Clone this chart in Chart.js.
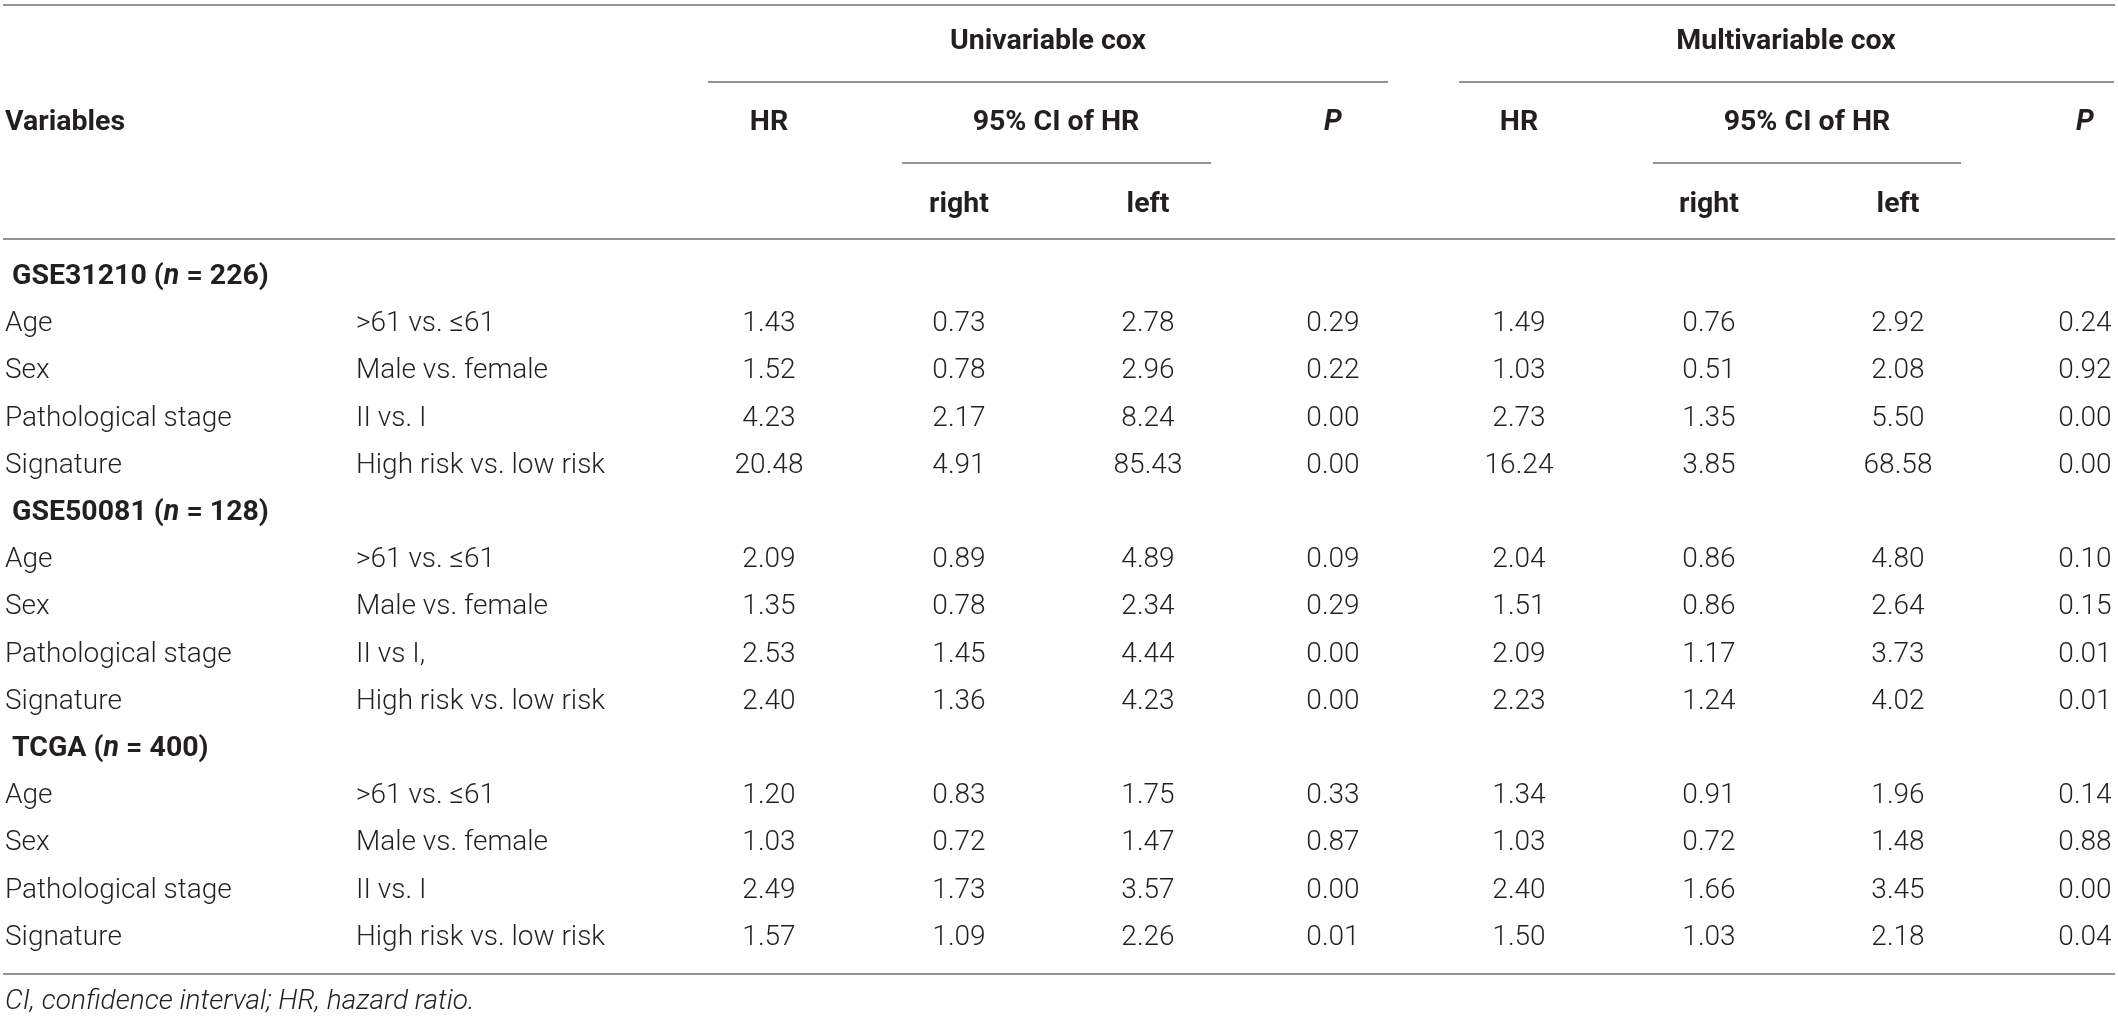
<!DOCTYPE html>
<html>
<head>
<meta charset="utf-8">
<script src="https://cdn.jsdelivr.net/npm/chart.js@4.4.1/dist/chart.umd.min.js"></script>
<style>
  html, body { margin: 0; padding: 0; background: #fff; }
  canvas { display: block; }
</style>
</head>
<body>
<canvas id="tbl" width="2118" height="1020"></canvas>
<script>
// ---- table values ----
const groups = ['GSE31210', 'GSE50081', 'TCGA'];
const groupN = [226, 128, 400];
const variables = ['Age', 'Sex', 'Pathological stage', 'Signature'];
const comparisons = [
  '>61 vs. \u226461', 'Male vs. female', 'II vs. I', 'High risk vs. low risk',
  '>61 vs. \u226461', 'Male vs. female', 'II vs I,', 'High risk vs. low risk',
  '>61 vs. \u226461', 'Male vs. female', 'II vs. I', 'High risk vs. low risk'
];
const uniHR    = [1.43, 1.52, 4.23, 20.48, 2.09, 1.35, 2.53, 2.40, 1.20, 1.03, 2.49, 1.57];
const uniRight = [0.73, 0.78, 2.17, 4.91,  0.89, 0.78, 1.45, 1.36, 0.83, 0.72, 1.73, 1.09];
const uniLeft  = [2.78, 2.96, 8.24, 85.43, 4.89, 2.34, 4.44, 4.23, 1.75, 1.47, 3.57, 2.26];
const uniP     = [0.29, 0.22, 0.00, 0.00,  0.09, 0.29, 0.00, 0.00, 0.33, 0.87, 0.00, 0.01];
const mulHR    = [1.49, 1.03, 2.73, 16.24, 2.04, 1.51, 2.09, 2.23, 1.34, 1.03, 2.40, 1.50];
const mulRight = [0.76, 0.51, 1.35, 3.85,  0.86, 0.86, 1.17, 1.24, 0.91, 0.72, 1.66, 1.03];
const mulLeft  = [2.92, 2.08, 5.50, 68.58, 4.80, 2.64, 3.73, 4.02, 1.96, 1.48, 3.45, 2.18];
const mulP     = [0.24, 0.92, 0.00, 0.00,  0.10, 0.15, 0.01, 0.01, 0.14, 0.88, 0.00, 0.04];
const footnote = 'CI, confidence interval; HR, hazard ratio.';

// ---- layout ----
const W = 2118, H = 1020;
const FONT = 'Roboto, "Liberation Sans", sans-serif';
const INK = '#231f20';
const RULE = '#939393';
const BODY_TOP = 277, ROW_H = 47.2;
const rowY = k => BODY_TOP + k * ROW_H;
const dataRow = j => Math.floor(j / 4) * 5 + 1 + (j % 4);

const X = {
  name: 5, group: 12, compare: 356,
  uniHR: 769, uniR: 959, uniL: 1148, uniP: 1333,
  mulHR: 1519, mulR: 1709, mulL: 1898, mulP: 2085
};
const HEAD_Y = [42, 123, 205];

function cells(texts, xs, ys, style) {
  return {
    type: 'scatter',
    data: texts.map((t, i) => ({ x: Array.isArray(xs) ? xs[i] : xs, y: ys[i] })),
    texts: texts,
    textStyle: style,
    pointRadius: 0,
    pointHoverRadius: 0
  };
}

function rule(x1, x2, y) {
  return {
    type: 'line',
    data: [{ x: x1, y: y }, { x: x2, y: y }],
    borderColor: RULE,
    borderWidth: 2,
    pointRadius: 0,
    showLine: true,
    clip: false
  };
}

const fmt = v => v.toFixed(2);
const bodyYs = comparisons.map((_, j) => rowY(dataRow(j)));
const light = { weight: 300, size: 28, align: 'center' };
const bold = align => ({ weight: 700, size: 28.5, align: align });

const datasets = [
  // header
  cells(['Univariable cox', 'Multivariable cox'], [1048, 1786], [HEAD_Y[0], HEAD_Y[0]], bold('center')),
  cells(['Variables'], X.name, [HEAD_Y[1]], bold('left')),
  cells(['HR', '95% CI of HR', 'HR', '95% CI of HR'], [X.uniHR, 1056, X.mulHR, 1807],
        Array(4).fill(HEAD_Y[1]), bold('center')),
  cells([[{ t: 'P', i: true }], [{ t: 'P', i: true }]], [X.uniP, X.mulP],
        [HEAD_Y[1], HEAD_Y[1]], bold('center')),
  cells(['right', 'left', 'right', 'left'], [X.uniR, X.uniL, X.mulR, X.mulL],
        Array(4).fill(HEAD_Y[2]), bold('center')),
  // group rows
  cells(groups.map((g, k) => [{ t: g + ' (' }, { t: 'n', i: true }, { t: ' = ' + groupN[k] + ')' }]),
        X.group, groups.map((_, k) => rowY(k * 5)), bold('left')),
  // body
  cells(comparisons.map((_, j) => variables[j % 4]), X.name, bodyYs, { weight: 300, size: 28, align: 'left' }),
  cells(comparisons, X.compare, bodyYs, { weight: 300, size: 28, align: 'left' }),
  cells(uniHR.map(fmt), X.uniHR, bodyYs, light),
  cells(uniRight.map(fmt), X.uniR, bodyYs, light),
  cells(uniLeft.map(fmt), X.uniL, bodyYs, light),
  cells(uniP.map(fmt), X.uniP, bodyYs, light),
  cells(mulHR.map(fmt), X.mulHR, bodyYs, light),
  cells(mulRight.map(fmt), X.mulR, bodyYs, light),
  cells(mulLeft.map(fmt), X.mulL, bodyYs, light),
  cells(mulP.map(fmt), X.mulP, bodyYs, light),
  cells([[{ t: footnote, i: true }]], X.name, [1002], { weight: 300, size: 28, align: 'left' }),
  // rules
  rule(3, 2115, 5),
  rule(708, 1388, 82),
  rule(1459, 2114, 82),
  rule(902, 1211, 163),
  rule(1653, 1961, 163),
  rule(3, 2115, 239),
  rule(3, 2115, 974)
];

const cellText = {
  id: 'cellText',
  afterDatasetsDraw(chart) {
    const ctx = chart.ctx;
    chart.data.datasets.forEach((ds, i) => {
      if (!ds.texts) return;
      const st = ds.textStyle;
      const meta = chart.getDatasetMeta(i);
      ctx.save();
      ctx.fillStyle = INK;
      ctx.textBaseline = 'middle';
      ctx.textAlign = 'left';
      ds.texts.forEach((txt, j) => {
        const pt = meta.data[j];
        const segs = typeof txt === 'string' ? [{ t: txt }] : txt;
        const fontOf = s => (s.i ? 'italic ' : '') + st.weight + ' ' + st.size + 'px ' + FONT;
        let total = 0;
        segs.forEach(s => { ctx.font = fontOf(s); total += ctx.measureText(s.t).width; });
        let x = pt.x;
        if (st.align === 'center') x -= total / 2;
        else if (st.align === 'right') x -= total;
        segs.forEach(s => {
          ctx.font = fontOf(s);
          ctx.fillText(s.t, x, pt.y);
          x += ctx.measureText(s.t).width;
        });
      });
      ctx.restore();
    });
  }
};

new Chart(document.getElementById('tbl'), {
  type: 'scatter',
  data: { datasets: datasets },
  options: {
    responsive: false,
    animation: false,
    devicePixelRatio: 1,
    events: [],
    layout: { padding: 0 },
    plugins: { legend: { display: false }, tooltip: { enabled: false } },
    scales: {
      x: { type: 'linear', min: 0, max: W, display: false },
      y: { type: 'linear', min: 0, max: H, reverse: true, display: false }
    }
  },
  plugins: [cellText]
});
</script>
</body>
</html>
